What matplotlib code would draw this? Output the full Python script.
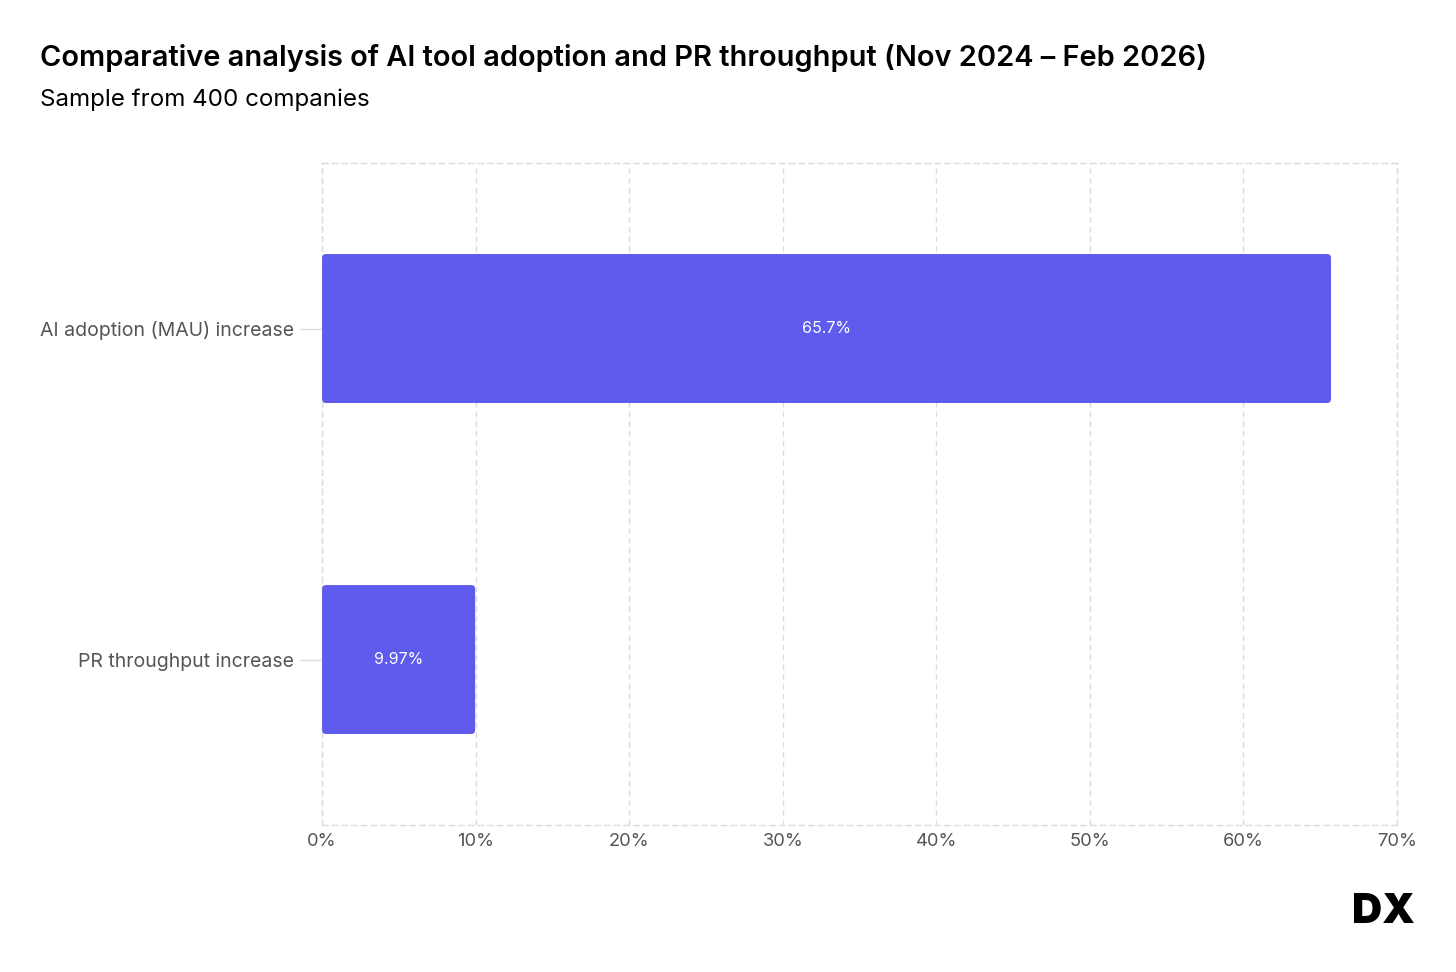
import matplotlib.pyplot as plt
from matplotlib.patches import FancyBboxPatch
from matplotlib.ticker import FuncFormatter

plt.rcParams['font.family'] = ['Inter', 'DejaVu Sans']

# data
categories = ['AI adoption (MAU) increase', 'PR throughput increase']
values = [65.7, 9.97]
value_labels = ['65.7%', '9.97%']
xticks = [0, 10, 20, 30, 40, 50, 60, 70]

bar_color = '#5F5BEC'
grid_color = '#DCDCDC'

fig = plt.figure(figsize=(14.56, 9.72), dpi=100)
ax = fig.add_axes([0.2212, 0.1512, 0.7383, 0.6811])

ypos = list(range(len(categories)))
bars = ax.barh(ypos, values, height=0.45, color=bar_color, zorder=3)

# swap plain bars for slightly rounded ones (~4px corners)
for b in bars:
    b.set_visible(False)
    patch = FancyBboxPatch((b.get_x(), b.get_y()), b.get_width(), b.get_height(),
                           boxstyle='round,pad=0,rounding_size=0.26',
                           mutation_aspect=0.0464,
                           fc=bar_color, ec='none', zorder=3)
    ax.add_patch(patch)

for y, v, lab in zip(ypos, values, value_labels):
    ax.text(v / 2, y, lab, color='white', fontsize=11.5, ha='center',
            va='center', zorder=4)

ax.set_xlim(0, 70)
ax.set_ylim(1.5, -0.5)
ax.set_xticks(xticks)
ax.xaxis.set_major_formatter(FuncFormatter(lambda v, p: f'{int(v)}%'))
ax.set_yticks(ypos)
ax.set_yticklabels(categories)

ax.grid(axis='x', color=grid_color, linestyle=(0, (4, 3)), linewidth=1, zorder=0)
for s in ax.spines.values():
    s.set_color(grid_color)
    s.set_linestyle((0, (4, 3)))
    s.set_linewidth(1)

ax.tick_params(axis='x', length=0, pad=6, labelsize=13.2, labelcolor='#555555')
ax.tick_params(axis='y', length=16, width=1, color=grid_color, pad=4,
               labelsize=14, labelcolor='#555555')
for t in ax.yaxis.get_ticklines():
    t.set_linestyle((0, (3, 3)))

fig.text(0.0275, 0.940, 'Comparative analysis of AI tool adoption and PR throughput (Nov 2024 \u2013 Feb 2026)',
         fontsize=20.9, fontweight='semibold', color='black', va='center')
fig.text(0.0275, 0.897, 'Sample from 400 companies', fontsize=17.4, color='black', va='center')

fig.text(0.972, 0.062, 'DX', fontsize=30, fontweight='black', color='black',
         ha='right', va='center')

fig.savefig('out.png', dpi=100)
